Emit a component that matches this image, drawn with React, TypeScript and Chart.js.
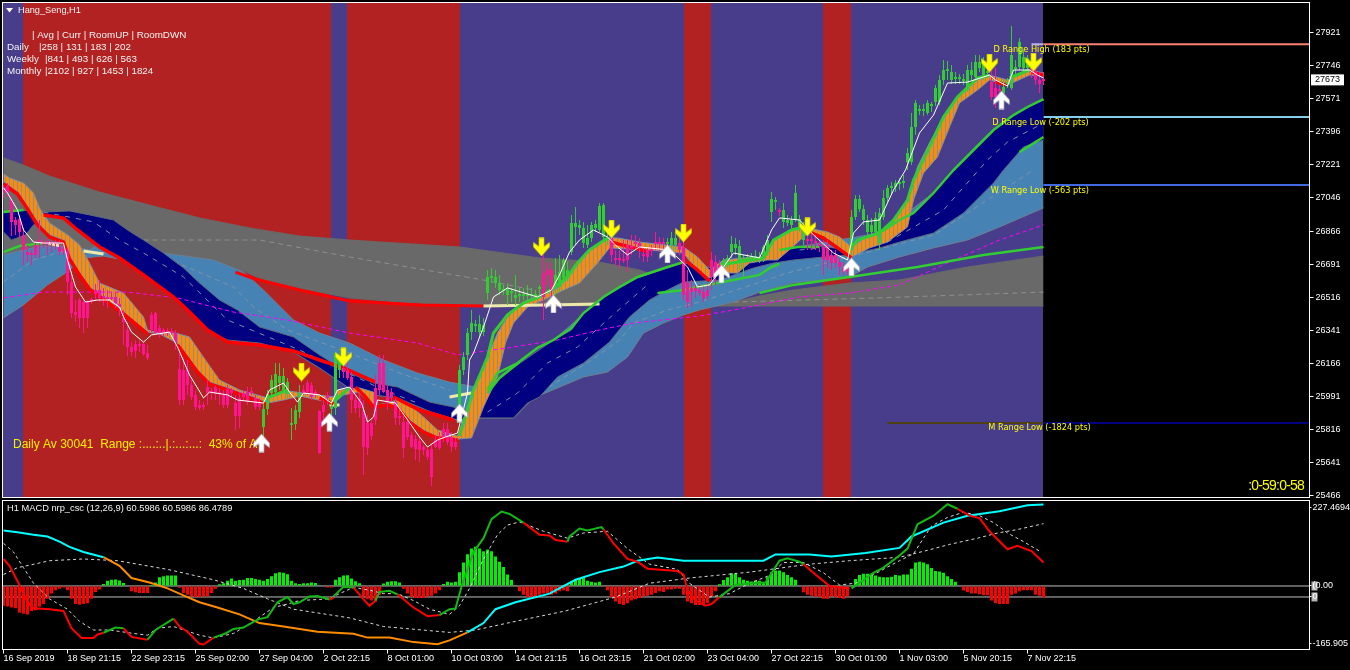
import React, { useEffect, useRef } from "react";
import { Chart, registerables } from "chart.js";

Chart.register(...registerables);

type Pt = [number, number] | null;

const zoneEdges = [-0.25, 4.875, 81.875, 85.875, 114.125, 170.125, 176.875, 204.875, 211.875, 259.875];
const zoneColors = ["#483D8B", "#B22222", "#483D8B", "#B22222", "#483D8B", "#B22222", "#483D8B", "#B22222", "#483D8B"];

const priceTicks = [27921, 27746, 27571, 27396, 27221, 27046, 26866, 26691, 26516, 26341, 26166, 25991, 25816, 25641, 25466];
const currentPrice = 27673;
const dateTicks = ["16 Sep 2019", "18 Sep 21:15", "22 Sep 23:15", "25 Sep 02:00", "27 Sep 04:00", "2 Oct 22:15", "8 Oct 01:00", "10 Oct 03:00", "14 Oct 21:15", "16 Oct 23:15", "21 Oct 02:00", "23 Oct 04:00", "27 Oct 22:15", "30 Oct 01:00", "1 Nov 03:00", "5 Nov 20:15", "7 Nov 22:15"];
const dateTickBars = [0, 16, 32, 48, 64, 80, 96, 112, 128, 144, 160, 176, 192, 208, 224, 240, 256];
const macdTicks = [227.4694, 0, -31.7, -165.905];
const macdTickLabels = ["227.4694", "(0.00", "0", "-165.905"];

const chartTitle = "Hang_Seng,H1";
const infoHeader = "| Avg | Curr | RoomUP | RoomDWN";
const infoNames = ["Daily", "Weekly", "Monthly"];
const infoRows = ["|258 | 131 | 183 | 202", "|841 | 493 | 626 | 563", "|2102 | 927 | 1453 | 1824"];
const dailyText = "Daily Av 30041  Range :....:..|.:...:...:  43% of Av";
const clockText = ":0-59:0-58";
const macdTitle = "H1 MACD nrp_csc (12,26,9) 60.5986 60.5986 86.4789";
const rangeLabels = ["D Range High (183 pts)", "D Range Low (-202 pts)", "W Range Low (-563 pts)", "M Range Low (-1824 pts)"];
const rangeLabelBars = [247.5, 247.2, 246.8, 246.2];
const rangeLabelPrices = [27826, 27439, 27079, 25823];
const rangeHigh: Pt[] = [[260, 27856], [326.5, 27856]];
const rangeHighStub: Pt[] = [[257, 27856], [260, 27856]];
const rangeDayLow: Pt[] = [[260, 27471], [326.5, 27471]];
const rangeWeekLow: Pt[] = [[260, 27110], [326.5, 27110]];
const rangeMonthLowOnZone: Pt[] = [[221, 25849], [260, 25849]];
const rangeMonthLow: Pt[] = [[260, 25849], [326.5, 25849]];

const grayTop: Pt[] = [[0,27254],[5,27216],[11.5,27158],[24,27073],[36.5,27004],[49,26936],[61.5,26883],[74,26840],[86.5,26819],[114,26782],[134,26724],[149,26702],[159,26660],[169,26581],[179,26490],[182.5,26490],[189,26522],[197.5,26554],[211.5,26591],[224,26607],[241,26676],[260,26734]];
const grayBottom: Pt[] = [[0,26740],[24,26740],[40,26713],[52.5,26687],[60,26655],[65,26607],[74,26565],[86.5,26512],[99,26490],[114,26475],[149,26469],[260,26469]];
const grayDash: Pt[] = [[35,26819],[64,26819],[86.5,26729],[120,26607],[132.5,26554],null,[182.5,26490],[218.5,26512],[260,26543]];
const steelTop: Pt[] = [[0,26740],[9,26787],[16,26787],[21.5,26766],[27.5,26846],[34,26793],[40,26750],[52.5,26713],[60,26649],[65,26554],[72.5,26395],[79,26326],[86.5,26273],[95,26183],[103.5,26114],[111.5,26066],[118,26040],[121,26013],[137.5,26289],[150,26517],[166,26671],[179,26660],[198.5,26782],[219,26856],[232.5,27068],[247.5,27402],[260,27561]];
const steelBottom: Pt[] = [[0,26406],[5,26475],[11,26581],[15.5,26644],[20,26724],[25,26734],[29,26718],[35,26628],[42.5,26512],[46,26443],[51,26337],[56,26289],[64,26273],[72.5,26225],[79,26141],[86,26040],[92.5,25998],[98.5,25982],[107,25907],[113.5,25865],[119,25876],[127.5,25876],[132.5,25982],[138.5,26035],[145,26093],[151,26119],[156,26199],[160,26326],[165,26379],[170,26422],[174,26448],[182.5,26490],[189,26543],[197.5,26591],[211.5,26623],[216,26676],[224,26729],[232.5,26777],[241,26819],[249,26888],[260,26989]];
const steelDash: Pt[] = [[0,26596],[7.5,26713],[16,26766],[40,26729],[57.5,26570],[62.5,26464],[71,26342],[86.5,26220],[99,26114],[111.5,26024],null,[132.5,25987],[147,26183],[154,26289],[157.5,26379],[166,26448],[174,26490],[196,26644],[232.5,26846],[257.5,27190]];
const navyTop: Pt[] = [[0,26967],[4,26978],[10,26967],[16.5,26973],[21.5,26952],[27.5,26925],[31,26872],[35,26819],[40,26750],[45,26671],[49,26591],[54,26501],[58.5,26448],[64,26358],[72.5,26305],[79,26210],[86,26119],[92.5,26061],[98.5,26040],[106.5,25960],[113.5,25929],[119,25907],[121,26024],[123.5,26093],[128.5,26157],[137.5,26289],[142,26342],[145,26432],[150,26517],[158.5,26618],[166,26671],[170,26697],[174,26687],[179,26660],[185,26697],[194,26766],[198.5,26782],[204,26787],[211.5,26766],[216.5,26830],[219,26856],[224,26915],[227.5,26962],[232.5,27068],[237.5,27190],[242.5,27296],[247.5,27402],[252.5,27481],[256,27524],[260,27561]];
const navyBottom: Pt[] = [[0,26861],[2,26819],[5.5,26846],[7.5,26899],[11,26941],[15,26930],[18.5,26867],[24,26777],[29,26718],[35,26628],[42.5,26512],[46,26443],[51,26337],[56,26289],[64,26273],[72.5,26225],[79,26141],[86,26040],[92.5,25998],[98.5,25982],[107,25907],[113.5,25865],[119,25876],[127.5,25876],[131,25955],[134,25987],[138.5,26093],[145,26167],[151.5,26278],[156.5,26411],[161.5,26501],[166,26554],[170,26596],[179,26607],[187.5,26671],[192.5,26697],[197.5,26713],[205,26729],[211,26740],[219,26777],[224,26808],[232.5,26856],[240,26962],[247.5,27121],[250,27190],[255,27312],[260,27349]];
const navyDash: Pt[] = [[10,26967],[22.5,26915],[29,26819],[35,26750],[45,26623],[56,26395],[74,26236],[95,26024],[103.5,25955],null,[121,25907],[128.5,26008],[136,26167],[143.5,26252],[151.5,26406],[161.5,26591],null,[199,26766],[221,26808],[235,26978],[246,27243],[251,27338],[260,27439]];
const orangeTop: Pt[] = [[0,27169],[1.5,27148],[5,27121],[7.5,27068],[9,26989],[11.5,26909],[16,26846],[19,26793],[21.5,26697],[24,26591],[30,26538],[35,26411],[36,26342],[39,26326],[43,26326],[46.5,26305],[51,26167],[54,26077],[59,26024],[66,25982],[71,26019],[82.5,25987],[83.5,26024],[89,26035],[92.5,26013],[93.5,25945],[96,25955],[98.5,25971],[101.5,25945],[105,25881],[108.5,25812],[113.5,25780],[117.5,26024],[121,26199],[123.5,26326],[126,26411],[130,26490],[134,26528],[138.5,26565],[141,26623],[143.5,26697],[146.5,26766],[151,26830],[153.5,26830],[159,26808],[170,26782],[173.5,26729],[176.5,26660],[180,26713],[185,26724],[190,26729],[192.5,26819],[197,26872],[200,26888],[206,26861],[209,26835],[212,26782],[216.5,26846],[221,26883],[226,27031],[228.5,27206],[231.5,27333],[235,27471],[238.5,27577],[243.5,27667],[246.5,27693],[251,27667],[256.5,27720],[260,27704]];
const orangeBottom: Pt[] = [[0,27126],[3.5,27073],[6,26994],[8.5,26909],[11.5,26846],[15,26819],[16.5,26729],[19,26644],[21.5,26570],[30,26437],[36,26331],[39,26321],[43.5,26273],[48.5,26130],[51.5,26066],[56,26035],[62.5,25987],[66,25955],[70,25971],[74,25992],[82.5,25955],[85,25998],[88.5,26013],[92.5,25945],[93.5,25939],[96,25950],[98.5,25934],[101.5,25865],[105,25812],[108.5,25775],[113.5,25764],[117,25770],[120,25934],[123.5,26093],[125.5,26273],[127.5,26379],[131,26464],[136,26512],[140,26554],[144,26591],[148.5,26697],[151.5,26777],[161.5,26766],[170,26750],[174,26644],[176.5,26618],[179,26644],[183.5,26644],[186.5,26697],[191,26713],[193.5,26713],[197,26777],[200,26835],[201.5,26861],[205,26835],[208.5,26782],[212,26729],[216.5,26777],[221,26808],[226,26888],[227.5,27031],[230,27174],[233.5,27259],[236.5,27418],[239,27545],[243.5,27614],[246.5,27667],[251,27640],[256.5,27693],[260,27688]];
const magentaLine: Pt[] = [[0,26512],[10,26543],[31,26543],[43.5,26512],[57.5,26437],[71,26395],[86.5,26326],[103.5,26273],[113.5,26210],[126,26247],[138.5,26289],[149,26342],[157.5,26379],[174,26416],[182.5,26448],[199,26517],[211.5,26538],[224,26581],[236.5,26702],[249,26819],[260,26899]];
const longRedLine: Pt[] = [[58,26649],[62,26618],[74,26554],[86.5,26496],[104,26475],[120,26469]];
const paleLine: Pt[] = [[11,26804],[14,26788],null,[20,26761],[25,26745],null,[81.5,25945],[84,25945],null,[111.5,25987],[117,26008],null,[120,26469],[135.5,26475],[149,26480]];
const slowRed: Pt[] = [[10,26952],[15,26935],[18.5,26872],[24,26782],[29,26724],[35,26634],[42.5,26517],[46,26448],[51,26342],[56,26278],[64,26263],[72.5,26231],[79,26183],[85,26141],[93,26066],null,[97.5,25987],[104,25918],[112.5,25865]];
const thickGreen: Pt[] = [[0,26967],[5,26978],null,[0,26755],[4,26787],[10,26803],null,[121,26024],[123.5,26114],[128.5,26167],[133.5,26247],[137.5,26289],[142,26353],[145,26432],[150,26517],[154,26570],[158.5,26623],[166,26676],[170,26702],null,[121,26008],[124,26088],[129,26172],null,[163.5,26538],[170,26554],[176,26581],[189,26634],[192,26676],[194,26692],null,[194,26766],[198.5,26782],[204,26782],null,[189,26538],[197.5,26581],[211.5,26623],[228.5,26676],[245,26740],[260,26782],null,[219,26856],[224,26925],[227.5,26962],[232.5,27068],[237.5,27190],[242.5,27296],[247.5,27402],[252.5,27481],[256,27524],[260,27566],null,[254,27285],[260,27365]];
const fastRed: Pt[] = [[0,27116],[3.5,27063],[6,26983],[8.5,26899],[11.5,26835],[15,26808],[16.5,26718],[19,26634],[21.5,26559],[30,26427],[36,26321],null,[43.5,26263],[48.5,26119],[51.5,26056],[56,26024],[62.5,25976],[66,25945],null,[79,25982],[82.5,25950],null,[88,26040],[90.5,25987],[92.5,25934],[96,25945],[98.5,25929],[101.5,25854],[105,25801],[108.5,25769],[113.5,25759],null,[152,26808],[161.5,26755],null,[171,26702],[173.5,26660],[176.5,26602],null,[201.5,26861],[205,26830],[208.5,26777],[212,26724],null,[248,27656],[251,27640],null,[257,27709],[260,27693]];
const fastGreen: Pt[] = [[66,25982],[71,26024],null,[83,25971],[86.5,26035],null,[114,25780],[117.5,26024],[121,26199],[122.5,26326],[126,26422],[130,26485],[134,26517],[137.5,26565],[141,26623],[143.5,26697],[146.5,26766],[151,26830],null,[179,26687],[190,26724],[192.5,26819],[197,26872],[200,26888],null,[212,26777],[213.5,26819],[219,26856],[222.5,26925],[226,27031],[227.5,27137],[231.5,27312],[235,27471],[238.5,27577],[243.5,27678],[246.5,27693],null,[251.5,27678],[256.5,27720]];
const whiteLine: Pt[] = [[0,27095],[1,27068],[3.5,26978],[5,26872],[7.5,26808],[10,26803],[15,26803],[16,26713],[18,26570],[19,26538],[20.5,26490],[23.5,26501],[26.5,26501],[29,26464],[30,26411],[32,26331],[35,26278],[37,26316],[41.5,26331],[43.5,26252],[46.5,26104],[50,25982],[51.5,26013],[56,25998],[58.5,25971],[65,25955],[66.5,26024],[70,26061],[71.5,26013],[73.5,25960],[75,26008],[79,25998],[82,25955],[83.5,26024],[86.5,26040],[89.5,25955],[91,25854],[92.5,25881],[93.5,25971],[98,25955],[100.5,25881],[104,25775],[106,25722],[108.5,25759],[110.5,25775],[113.5,25796],[116,26008],[116.5,26183],[117.5,26220],[120,26358],[122.5,26517],[126,26565],[133.5,26517],[137,26554],[139,26634],[141.5,26755],[144,26819],[147.5,26872],[151,26835],[153.5,26782],[156,26740],[159,26782],[166.5,26766],[171,26676],[173.5,26570],[176.5,26581],[180,26676],[182.5,26750],[189,26724],[192,26872],[194,26936],[199,26925],[202.5,26846],[207.5,26750],[211,26713],[212.5,26856],[215,26915],[219,26925],[222.5,27084],[225.5,27190],[229,27386],[232.5,27481],[236,27651],[241,27656],[246.5,27693],[248,27667],[251,27635],[252.5,27720],[256.5,27720],[258.5,27693],[260,27678]];

const buySignals: Pt[] = [[64.5,25743],[81.5,25854],[114,25902],[137.5,26480],[166,26745],[179.5,26639],[212,26676],[249.5,27561]];
const sellSignals: Pt[] = [[74.5,26119],[85,26199],[134.5,26782],[152,26877],[170,26856],[201,26888],[246.5,27757],[257.5,27762]];

const risingSpans = [[65,74],[82,84],[114,134],[138,151],[166,168],[180,193],[195,200],[212,246],[250,256]];
const candleHigh = [
27110,27121,27058,26941,26946,26883,26793,26766,26819,26925,
26830,26830,26819,26819,26819,26793,26777,26634,26501,26512,
26501,26501,26512,26586,26607,26565,26554,26543,26543,26512,
26448,26384,26278,26289,26289,26278,26263,26437,26437,26369,
26353,26353,26353,26342,26236,26194,26183,26077,26024,25971,
25960,26077,26035,26051,26035,26024,26051,26035,25998,26013,
26024,26040,26040,25998,25982,25971,26024,26104,26167,26167,
26141,26088,25929,25945,26051,26051,26077,26066,26024,25918,
25971,26013,25971,26225,26210,26172,26172,26119,25998,26013,
25971,25892,25876,26104,26210,26210,26051,26035,25982,25918,
25892,25876,25801,25786,25770,25733,25717,25733,25786,25801,
25849,25849,25801,25770,26157,26225,26353,26448,26395,26422,
26406,26660,26671,26660,26634,26581,26591,26565,26634,26565,
26565,26581,26565,26554,26581,26740,26702,26697,26724,26740,
26724,26702,26952,26994,26925,26915,26899,26915,26925,27015,
27015,26872,26861,26766,26766,26819,26819,26846,26846,26830,
26777,26777,26793,26861,26835,26830,26830,26861,26861,26830,
26819,26660,26607,26581,26581,26581,26591,26755,26740,26713,
26724,26740,26840,26830,26819,26740,26745,26750,26766,26755,
26793,26846,27073,27047,26989,27015,26952,26946,27110,26952,
26915,26872,26872,26846,26819,26819,26819,26766,26766,26724,
26702,26687,26978,27058,27058,27005,26952,26936,26967,26989,
27084,27110,27126,27137,27148,27164,27307,27492,27561,27534,
27540,27561,27550,27640,27693,27773,27768,27746,27709,27699,
27699,27746,27762,27799,27799,27789,27762,27746,27731,27640,
27667,27678,27953,27773,27890,27826,27799,27762,27746,27709,
27709];
const candleLow = [
27042,27047,26840,26846,26830,26687,26702,26687,26724,26724,
26777,26740,26755,26766,26740,26740,26528,26406,26384,26353,
26326,26353,26480,26501,26490,26469,26459,26501,26459,26416,
26263,26204,26204,26194,26225,26204,26183,26331,26321,26300,
26310,26310,26310,26236,25945,25945,25998,25971,25918,25918,
25918,25945,25971,25971,25945,25929,25929,25982,25812,25823,
25971,25945,25998,25918,25918,25706,25892,25982,25998,26024,
26013,25982,25759,25812,25876,25998,25998,25971,25982,25685,
25865,25945,25812,25892,26088,26088,26077,25902,25902,25876,
25574,25680,25759,25839,25998,26008,25918,25960,25839,25839,
25664,25759,25717,25653,25642,25680,25653,25515,25717,25706,
25748,25733,25695,25706,25918,26104,26183,26289,26331,26300,
26310,26501,26591,26565,26528,26528,26475,26490,26475,26490,
26501,26490,26501,26501,26522,26395,26581,26448,26528,26543,
26581,26596,26740,26793,26846,26777,26777,26808,26861,26861,
26819,26793,26702,26687,26671,26697,26649,26740,26766,26724,
26702,26702,26734,26766,26755,26766,26777,26766,26766,26740,
26501,26459,26464,26512,26522,26490,26501,26554,26581,26634,
26660,26671,26724,26740,26660,26618,26697,26702,26702,26697,
26702,26734,26915,26978,26946,26883,26893,26883,26915,26861,
26793,26766,26766,26766,26755,26634,26671,26660,26671,26634,
26634,26634,26740,26925,26967,26899,26846,26846,26846,26766,
26925,27020,27058,27073,27084,27095,27190,27217,27375,27481,
27476,27481,27497,27529,27534,27640,27667,27646,27646,27646,
27640,27603,27667,27667,27709,27667,27678,27561,27519,27561,
27577,27625,27614,27693,27720,27709,27709,27678,27640,27598,
27640];
const candleBodyTop = [
27095,27105,27031,26925,26930,26846,26755,26750,26793,26819,
26808,26814,26808,26808,26782,26771,26761,26596,26437,26501,
26490,26490,26506,26554,26554,26522,26517,26517,26517,26480,
26406,26342,26252,26268,26268,26268,26220,26422,26432,26353,
26342,26337,26337,26326,26135,26130,26130,26051,25998,25945,
25945,26040,26019,26040,26013,25998,26029,26024,25955,25982,
26008,26013,26019,25982,25960,25923,26003,26077,26109,26098,
26098,26066,25849,25918,26008,26024,26061,26051,26013,25913,
25945,25998,25934,26220,26199,26141,26130,26093,25971,25982,
25918,25849,25849,26035,26167,26167,26024,26013,25960,25886,
25854,25854,25786,25764,25754,25722,25706,25711,25759,25759,
25817,25817,25775,25748,26130,26199,26326,26379,26374,26374,
26369,26623,26628,26623,26591,26559,26565,26549,26528,26533,
26533,26533,26533,26533,26570,26644,26665,26660,26634,26649,
26713,26660,26909,26909,26899,26883,26830,26899,26904,26999,
27005,26830,26830,26724,26724,26718,26793,26787,26808,26803,
26745,26766,26771,26808,26808,26808,26808,26830,26830,26803,
26782,26591,26565,26565,26554,26543,26554,26713,26702,26687,
26713,26724,26798,26798,26787,26718,26729,26734,26734,26729,
26782,26819,27036,27031,26978,26978,26925,26925,27068,26930,
26872,26824,26824,26814,26798,26782,26793,26740,26740,26702,
26676,26665,26941,27036,27036,26983,26925,26899,26936,26962,
27042,27095,27105,27121,27126,27132,27280,27418,27545,27513,
27513,27545,27540,27625,27667,27720,27725,27709,27683,27683,
27672,27720,27720,27762,27762,27757,27715,27656,27625,27619,
27630,27656,27799,27736,27868,27789,27784,27731,27709,27667,
27672];
const candleBodyBottom = [
27073,27068,26915,26899,26861,26766,26740,26740,26740,26803,
26798,26798,26798,26798,26755,26761,26596,26432,26422,26406,
26406,26406,26496,26533,26512,26512,26506,26506,26480,26464,
26384,26252,26225,26231,26257,26215,26194,26342,26326,26326,
26331,26326,26326,26273,25971,25971,26051,25987,25934,25929,
25934,26008,26008,26008,26003,25945,25945,26008,25886,25886,
25987,25960,26008,25934,25934,25828,25923,26008,26013,26061,
26024,26003,25839,25844,25907,26008,26013,25987,26003,25690,
25907,25982,25923,25929,26130,26119,26088,25971,25929,25929,
25722,25717,25780,25865,26024,26013,25955,25987,25876,25876,
25717,25775,25722,25711,25706,25706,25669,25563,25722,25717,
25770,25748,25722,25722,25934,26130,26210,26331,26363,26331,
26331,26538,26618,26591,26554,26549,26528,26538,26512,26522,
26522,26522,26522,26522,26559,26517,26634,26554,26565,26570,
26618,26623,26755,26888,26883,26803,26793,26830,26883,26872,
26835,26819,26740,26713,26713,26708,26713,26777,26798,26777,
26734,26729,26761,26798,26798,26798,26798,26793,26793,26766,
26528,26490,26543,26549,26538,26512,26522,26623,26644,26660,
26676,26702,26755,26777,26708,26708,26718,26724,26718,26729,
26729,26766,26967,27020,26967,26915,26909,26899,26925,26888,
26819,26814,26814,26803,26787,26713,26713,26697,26697,26676,
26649,26655,26766,26941,26983,26925,26861,26861,26861,26803,
26941,27042,27095,27100,27116,27121,27232,27232,27418,27503,
27503,27492,27529,27550,27550,27667,27715,27667,27672,27672,
27662,27614,27693,27683,27731,27683,27704,27577,27577,27609,
27598,27646,27625,27725,27736,27731,27731,27709,27667,27646,
27662];

const macdHistogram = [
-57,-59,-62,-64,-77,-80,-82,-72,-70,-60,
-52,-37,-22,-12,-8,-4,-12,-37,-52,-54,
-52,-50,-37,-17,-10,6,15,18,19,16,
9,0,-15,-18,-20,-20,-20,3,10,25,
28,30,30,30,-5,-20,-25,-30,-32,-32,
-30,-30,-20,-8,5,8,15,22,15,17,
18,23,23,20,18,15,20,28,37,40,
38,34,15,8,6,8,8,10,9,2,
0,-4,-4,18,25,30,31,22,14,8,
-30,-38,-42,-45,-25,7,12,14,14,10,
-8,-22,-32,-35,-35,-35,-30,-28,-22,-12,
6,12,10,12,40,68,92,108,113,108,
100,105,100,85,70,55,33,17,2,-15,
-25,-32,-32,-30,-25,-22,-20,-25,-22,-15,
-12,-15,10,18,23,25,15,12,10,12,
-2,-12,-32,-45,-52,-55,-50,-42,-38,-35,
-30,-28,-25,-20,-15,-17,-10,-10,-8,-8,
-25,-45,-50,-55,-55,-55,-50,-30,-15,5,
17,25,37,35,25,18,15,13,15,15,
8,25,40,45,45,40,32,25,18,0,
-18,-25,-28,-30,-32,-37,-37,-30,-32,-35,
-37,-30,3,20,32,35,35,35,30,27,
25,25,27,32,30,33,33,50,68,70,
68,63,52,43,42,38,28,20,12,0,
-13,-17,-22,-22,-24,-27,-27,-42,-50,-52,
-52,-52,-25,-22,-15,-12,-12,-12,-25,-28,
-33];
const macdRed: Pt[] = [[0,78],[1.5,58],[4,3],[6,-47],[7.5,-64],[11.5,-67],[15,-72],[17,-122],[19.5,-150],[22.5,-150],[23.5,-140],[25,-135],null,[30,-122],[32,-147],[36,-155],null,[42.5,-94],[44,-117],[46,-132],[49,-167],[50,-169],[52.5,-149],null,[81.5,-39],[82.5,-34],null,[87.5,-4],[89.5,-32],[91.5,-57],[93,-42],null,[98.5,-24],[102.5,-62],[106,-87],[109,-84],null,[130,183],[134,148],[136.5,146],[138,133],[141,128],null,[150,163],[152.5,123],[156,78],[158.5,70],[161,50],[168.5,43],[170,33],[171,-12],[173,-42],[175.5,-57],[177,-52],[179,-32],null,[200,63],[203,33],[206.5,0],[211.5,-7],null,[238.5,223],[241.5,203],[244,196],[246.5,158],[251,106],[253.5,116],[257,101],[260,68]];
const macdGreen: Pt[] = [[25,-135],[28,-120],[30,-122],null,[36,-155],[38,-127],[42.5,-94],null,[52.5,-149],[55.5,-137],[57.5,-124],[60,-120],[63.5,-97],[66,-90],[68.5,-47],[71,-32],[72.5,-52],[74,-47],[76.5,-30],[78.5,-29],[81.5,-39],null,[82.5,-30],[85,-2],[87.5,-4],null,[93,-42],[94,-17],[96.5,-14],[98.5,-24],null,[109,-84],[111.5,-67],[113,-65],[114.5,-2],[117.5,98],[120,138],[122,193],[124.5,215],[126.5,208],[130,183],null,[141,128],[141.5,143],[144,166],[146,160],[149.5,170],[150,163],null,[179,-32],[183,3],[187,8],[190.5,10],[194,73],[196,80],[199,70],[200,63],null,[212,-7],[217.5,38],[220,53],[224,88],[226,108],[228.5,178],[232.5,203],[236,236],[238.5,223]];
const macdCyan: Pt[] = [[0,160],[3.5,155],[7.5,148],[11,143],[14,128],[16.5,113],[20,98],[25,83],null,[116,-134],[120,-107],[123,-67],[128,-47],[136.5,-22],[143,18],[149,40],[155,56],[158.5,73],[163.5,82],[170,73],[190,73],[193,91],[201.5,91],[207,85],[215.5,95],[224,110],[227,143],[235,183],[241,203],[249,216],[256,233],[260,235]];
const macdOrange: Pt[] = [[25,83],[29,58],[32,23],[36.5,10],[41,-7],[45,-27],[49,-47],[53.5,-62],[59,-82],[64,-107],[70,-117],[78.5,-132],[87.5,-138],[91,-149],[96.5,-149],[102.5,-162],[108.5,-168],[111.5,-157],[116,-134]];
const macdSignal: Pt[] = [[0,123],[2.5,98],[5,53],[7.5,8],[11.5,-37],[16,-67],[19,-102],[22.5,-127],[26.5,-127],[32.5,-137],[36,-142],[38.5,-122],[42.5,-117],[49,-142],[52.5,-150],[57.5,-137],[62.5,-102],[67.5,-62],[71,-52],[74,-42],[81.5,-37],[84,-22],[87.5,-4],[91.5,-12],[95,-22],[98.5,-22],[102.5,-42],[106.5,-67],[111.5,-82],[114,-57],[116.5,-7],[120,78],[123.5,148],[126,176],[129,185],[135,158],[141,138],[145,153],[151,158],[156,108],[161.5,63],[168.5,48],[171.5,8],[176.5,-32],[181.5,-22],[186.5,8],[191,28],[195,68],[200,68],[205,38],[209,3],[213,8],[217.5,33],[224,73],[227.5,93],[230,138],[232,173],[236,198],[240,213],[244,203],[247.5,183],[251,153],[255,128],[259,101]];
const macdSlowSignal: Pt[] = [[0,33],[3.5,53],[6.5,60],[11.5,73],[20,78],[28.5,73],[41,48],[52.5,18],[60,-7],[66,-37],[72.5,-67],[86.5,-92],[95,-117],[111.5,-134],[118,-127],[128,-102],[140.5,-72],[153,-32],[161.5,8],[171.5,23],[186.5,40],[201.5,63],[211.5,73],[224,83],[231,103],[236.5,120],[243.5,138],[248.5,153],[253.5,163],[260,180]];
const macdLevels = [0, -31.7];

const SANS = "'Liberation Sans', sans-serif";
const BAR_MIN = -0.25;
const BAR_MAX = 326.5;

function xy(list: Pt[]) {
  let last = 0;
  return list.map((p) => {
    if (p) { last = p[0]; return { x: p[0], y: p[1] }; }
    return { x: last, y: null as any };
  });
}
function line(list: Pt[], color: string, width: number, dash?: number[]) {
  return { type: "line", data: xy(list), borderColor: color, borderWidth: width, borderDash: dash || [], pointRadius: 0, fill: false, tension: 0, spanGaps: false, borderCapStyle: "butt" };
}
function band(top: Pt[], bottom: Pt[], fillColor: any, edge: string) {
  return [
    { type: "line", data: xy(top), borderColor: edge, borderWidth: 1, pointRadius: 0, fill: "+1", backgroundColor: fillColor, tension: 0 },
    { type: "line", data: xy(bottom), borderColor: edge, borderWidth: 1, pointRadius: 0, fill: false, tension: 0 },
  ];
}
function arrowImage(color: string, edge: string, up: boolean) {
  const c = document.createElement("canvas");
  c.width = 17; c.height = 19;
  const g = c.getContext("2d")!;
  if (up) { g.translate(0, 19); g.scale(1, -1); }
  const pts = [[6,0.5],[11,0.5],[11,9],[16.5,5],[16.5,9.5],[8.5,18.5],[0.5,9.5],[0.5,5],[6,9]];
  g.beginPath();
  pts.forEach(([a, b], i) => (i ? g.lineTo(a, b) : g.moveTo(a, b)));
  g.closePath();
  g.fillStyle = color; g.fill();
  g.strokeStyle = edge; g.lineWidth = 0.7; g.stroke();
  return c;
}
function stripePattern() {
  const c = document.createElement("canvas");
  c.width = 4; c.height = 1;
  const g = c.getContext("2d")!;
  g.fillStyle = "#FF8C00"; g.fillRect(0, 0, 4, 1);
  g.fillStyle = "#7F8FA8"; g.fillRect(1, 0, 1, 1);
  return g.createPattern(c, "repeat");
}
function isRising(i: number) {
  return risingSpans.some(([a, b]) => i >= a && i <= b);
}
function clearScalePadding(s: any) {
  s.paddingTop = 0; s.paddingBottom = 0; s.paddingLeft = 0; s.paddingRight = 0;
}

export default function App() {
  const mainRef = useRef<HTMLCanvasElement>(null);
  const macdRef = useRef<HTMLCanvasElement>(null);

  useEffect(() => {
    const candleColor = candleHigh.map((_, i) => (isRising(i) ? "#32CD32" : "#FF1493"));
    const zoneSets = zoneColors.map((color, i) => ({
      type: "line",
      data: [{ x: zoneEdges[i], y: 28078 }, { x: zoneEdges[i + 1], y: 28078 }],
      borderWidth: 0, pointRadius: 0, fill: "start", backgroundColor: color,
    }));
    const mainSets: any[] = [
      ...zoneSets,
      line(rangeMonthLowOnZone, "#4F3F14", 2),
      line(rangeMonthLow, "#000080", 2),
      line(rangeHighStub, "#B8B0E8", 2),
      line(rangeHigh, "#FA8072", 2),
      line(rangeDayLow, "#87CEEB", 2),
      line(rangeWeekLow, "#4169E1", 2),
      ...band(grayTop, grayBottom, "#696969", "#696969"),
      line(grayDash, "#8F8F8F", 1, [5, 4]),
      ...band(steelTop, steelBottom, "#4682B4", "#6E7F8F"),
      line(steelDash, "#7F93A8", 1, [5, 4]),
      ...band(navyTop, navyBottom, "#000080", "#5A6A80"),
      line(navyDash, "#8090A8", 1, [5, 6]),
      ...band(orangeTop, orangeBottom, stripePattern(), "#7F8FA8"),
      line(magentaLine, "#FF00FF", 1, [4, 3]),
      line(longRedLine, "#FF0000", 3),
      line(paleLine, "#EEE8AA", 3),
      line(slowRed, "#FF0000", 3.5),
      line(thickGreen, "#32CD32", 2.5),
      line(fastRed, "#FF0000", 3.5),
      line(fastGreen, "#32CD32", 3),
      {
        type: "bar", grouped: false, barThickness: 1, inflateAmount: 0, borderWidth: 0,
        data: candleHigh.map((h, i) => ({ x: i, y: [candleLow[i], h] })),
        backgroundColor: candleColor,
      },
      {
        type: "bar", grouped: false, barThickness: 3, inflateAmount: 0, borderWidth: 0,
        data: candleBodyTop.map((t, i) => ({ x: i, y: [candleBodyBottom[i], t] })),
        backgroundColor: candleColor,
      },
      line(whiteLine, "#FFFFFF", 1),
      { type: "line", data: xy(sellSignals), showLine: false, pointStyle: arrowImage("#FFFF00", "#C8C800", false), pointRadius: 9 },
      { type: "line", data: xy(buySignals), showLine: false, pointStyle: arrowImage("#FFFFFF", "#A0A0B0", true), pointRadius: 9 },
    ];
    const arrowIndex = mainSets.length - 2;
    mainSets.forEach((d, i) => { d.order = mainSets.length - i; });

    const mainText = {
      id: "mainText",
      beforeDatasetDraw(chart: any, args: any) {
        if (args.index !== arrowIndex) return;
        const g = chart.ctx;
        g.save();
        g.font = `12px ${SANS}`;
        g.fillStyle = "#F0F000";
        g.textBaseline = "middle";
        g.textAlign = "left";
        g.fillText(dailyText, 13, 445);
        g.restore();
      },
      afterDraw(chart: any) {
        const g = chart.ctx;
        const { left, right, top, bottom } = chart.chartArea;
        const x = chart.scales.x;
        const y = chart.scales.y;
        g.save();
        g.strokeStyle = "#FFFFFF";
        g.lineWidth = 1;
        g.strokeRect(left, top, right - left, bottom - top);
        g.textBaseline = "middle";
        g.textAlign = "left";
        g.fillStyle = "#FFFFFF";
        g.beginPath(); g.moveTo(6, 8); g.lineTo(13, 8); g.lineTo(9.5, 12.5); g.closePath(); g.fill();
        g.font = `9.2px ${SANS}`;
        g.fillStyle = "#F2F2F2";
        g.fillText(chartTitle, 18, 10.5);
        g.font = `9.8px ${SANS}`;
        g.fillText(infoHeader, 32, 35.5);
        infoNames.forEach((name, i) => {
          g.fillText(name, 7, 47.5 + i * 12);
          g.fillText(infoRows[i], [39, 45, 45][i], 47.5 + i * 12);
        });
        g.font = "8.2px 'DejaVu Sans', sans-serif";
        g.fillStyle = "#FFFF00";
        rangeLabels.forEach((t, i) => g.fillText(t, x.getPixelForValue(rangeLabelBars[i]), y.getPixelForValue(rangeLabelPrices[i])));
        g.font = `14px ${SANS}`;
        g.textAlign = "right";
        (g as any).letterSpacing = "-0.8px";
        g.fillText(clockText, 1304, 486.5);
        (g as any).letterSpacing = "0px";
        const py = y.getPixelForValue(currentPrice);
        g.fillStyle = "#FFFFFF";
        g.fillRect(1311, py - 4.5, 33, 11);
        g.fillStyle = "#000000";
        g.font = `9px ${SANS}`;
        g.textAlign = "left";
        g.fillText(String(currentPrice), 1315, py + 1);
        g.restore();
      },
    };

    const main = new Chart(mainRef.current!, {
      type: "line",
      data: { datasets: mainSets },
      plugins: [mainText],
      options: {
        animation: false, responsive: false, devicePixelRatio: 1,
        layout: { autoPadding: false, padding: { left: 2.5, top: 2.5, right: 0, bottom: 1.5 } },
        plugins: { legend: { display: false }, tooltip: { enabled: false } },
        events: [],
        scales: {
          x: { type: "linear", min: BAR_MIN, max: BAR_MAX, display: false, offset: false, afterFit: clearScalePadding },
          y: {
            position: "right", min: 25454.25, max: 28077.75,
            afterFit: (s: any) => { s.width = 40.5; clearScalePadding(s); },
            afterBuildTicks: (s: any) => { s.ticks = priceTicks.map((value) => ({ value })); },
            border: { color: "#FFFFFF" },
            grid: { drawOnChartArea: false, color: "#FFFFFF", tickLength: 4 },
            ticks: { color: "#FFFFFF", font: { family: SANS, size: 9 }, padding: 2, autoSkip: false, callback: (v: any) => String(v) },
          },
        },
      } as any,
    } as any);

    const macdSets: any[] = [
      ...macdLevels.map((v) => line([[BAR_MIN, v], [BAR_MAX, v]], "#C0C0C0", 1)),
      {
        type: "bar", grouped: false, barThickness: 3, inflateAmount: 0, borderWidth: 0,
        data: macdHistogram.map((v, i) => ({ x: i, y: v })),
        backgroundColor: macdHistogram.map((v) => (v > 0 ? "#00F000" : "#FF0000")),
      },
      line(macdSlowSignal, "#D8D8D8", 1, [3, 3]),
      line(macdSignal, "#D8D8D8", 1, [3, 3]),
      line(macdOrange, "#FF8C00", 2),
      line(macdCyan, "#00FFFF", 2),
      line(macdRed, "#FF0000", 2),
      line(macdGreen, "#14B814", 2),
    ];
    macdSets.forEach((d, i) => { d.order = macdSets.length - i; });

    const macdText = {
      id: "macdText",
      beforeDraw(chart: any) {
        const g = chart.ctx;
        const y = chart.scales.y;
        g.save();
        g.fillStyle = "#B4B4B4";
        macdLevels.forEach((v) => g.fillRect(1311.5, y.getPixelForValue(v) - 4.5, 6, 9));
        g.restore();
      },
      afterDraw(chart: any) {
        const g = chart.ctx;
        const { left, right, top, bottom } = chart.chartArea;
        g.save();
        g.strokeStyle = "#FFFFFF";
        g.lineWidth = 1;
        g.strokeRect(left, top, right - left, bottom - top);
        g.font = `9.3px ${SANS}`;
        g.fillStyle = "#F2F2F2";
        g.textBaseline = "middle";
        g.fillText(macdTitle, 7, 9.5);
        g.restore();
      },
    };

    const macd = new Chart(macdRef.current!, {
      type: "line",
      data: { datasets: macdSets },
      plugins: [macdText],
      options: {
        animation: false, responsive: false, devicePixelRatio: 1,
        layout: { autoPadding: false, padding: { left: 2.5, top: 1.5, right: 0, bottom: 0 } },
        plugins: { legend: { display: false }, tooltip: { enabled: false } },
        events: [],
        scales: {
          x: {
            type: "linear", min: BAR_MIN, max: BAR_MAX, position: "bottom", offset: false,
            afterFit: (s: any) => { s.height = 20.5; clearScalePadding(s); },
            afterBuildTicks: (s: any) => { s.ticks = dateTickBars.map((value) => ({ value })); },
            border: { color: "#FFFFFF" },
            grid: { drawOnChartArea: false, color: "#FFFFFF", tickLength: 4, offset: false },
            ticks: {
              color: "#FFFFFF", font: { family: SANS, size: 9 }, align: "start", padding: 0, autoSkip: false, maxRotation: 0, minRotation: 0,
              callback: (v: any) => dateTicks[dateTickBars.indexOf(Number(v))],
            },
          },
          y: {
            position: "right", min: -183.3, max: 246.8,
            afterFit: (s: any) => { s.width = 40.5; clearScalePadding(s); },
            afterBuildTicks: (s: any) => { s.ticks = macdTicks.map((value) => ({ value })); },
            border: { color: "#FFFFFF" },
            grid: { drawOnChartArea: false, color: "#FFFFFF", tickLength: 2 },
            ticks: {
              color: "#FFFFFF", font: { family: SANS, size: 9 }, padding: 1, autoSkip: false,
              callback: (v: any) => macdTickLabels[macdTicks.indexOf(Number(v))],
            },
          },
        },
      } as any,
    } as any);

    return () => { main.destroy(); macd.destroy(); };
  }, []);

  return (
    <div style={{ position: "fixed", left: 0, top: 0, width: 1350, height: 670, background: "#000", overflow: "hidden" }}>
      <canvas ref={mainRef} width={1350} height={499} style={{ position: "absolute", left: 0, top: 0, display: "block" }} />
      <canvas ref={macdRef} width={1350} height={171} style={{ position: "absolute", left: 0, top: 499, display: "block" }} />
    </div>
  );
}
